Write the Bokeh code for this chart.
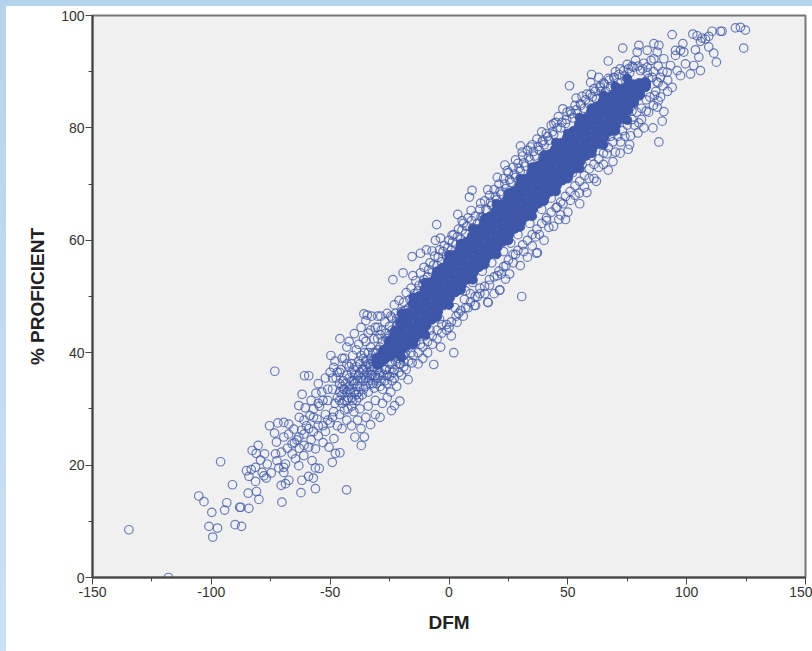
from bokeh.plotting import figure
from bokeh.models import FixedTicker, GlobalInlineStyleSheet
from bokeh.embed import file_html
from bokeh.resources import INLINE

x_ticks = [-150, -100, -50, 0, 50, 100, 150]
x_minor = [-125, -75, -25, 25, 75, 125]
x_labels = {-150: "-150", -100: "-100", -50: "-50", 0: "0", 50: "50", 100: "100", 150: "150"}
y_ticks = [0, 20, 40, 60, 80, 100]
y_minor = [10, 30, 50, 70, 90]

low_tail = [(-134.7,8.5),(-118,0),(-105.3,14.5),(-103.1,13.5),(-99.8,11.6),(-101,9.1),(-97.4,8.8),(-99.4,7.2),
(-96.1,20.6),(-91.1,16.5),(-93.5,13.3),(-94.4,12),(-90,9.4),(-87.3,9.1),(-88.1,12.5),(-87.6,12.5),(-84.2,12.3),
(-84.5,15),(-81,15.3),(-80,13.9),(-85.2,19),(-83.2,19.2),(-84.2,18),(-81.4,19.6),(-81.4,17.1),(-82.8,22.6),
(-80.3,23.5),(-81.1,22.1),(-77.6,22),(-79.3,20.9),(-78.6,18.7),(-76.9,17.7),(-77.9,18.1),(-74.8,18.6),(-76.5,20.2),
(-73.3,36.7),(-70.3,13.4),(-70.6,16.4),(-68.8,16.7),(-67.4,17.3),(-62.3,15.1),(-61.9,17.3),(-59.1,18),(-57.1,17.7),
(-56.2,15.8),(-56.2,19.5),(-54.6,19.4),(-43.1,15.6),(-49.1,20.5),(-47.8,22.1),(-45.9,22.2),(-48.4,24.7),(-39.6,25),
(-35.6,25),(-36.9,23.5),(-24.2,29.7),(-22.9,30.6),(-20.7,31.4),(-60.8,35.9),(-59,35.9),(-61.8,32.6),(-63.2,30.6),
(-49.7,39.5),(-45.9,42.5),(-39.8,43.4),(-75.5,27),(-72,27.5),(-73.4,25.7),(-72.6,24.1),(-69.5,27.6),(-67.4,27.3),
(-69.5,25),(-65.3,26.4),(-73,22),(-70.5,22.3),(-72.4,20.8),(-69.5,19.6),(-68.8,20.2),(-71.6,19.5),(-69.5,18.7),
(-66,22),(-64.6,21.1),(-63.2,19.9),(-61.1,21.7),(-57.6,20.8),(-59,23.2),(-56.2,22.9),(-50.5,23.2),(-66,23.8),
(-63.2,25),(-61,23.5),(-60,27),(-62,26.2),(-64,24.5),(-67.5,25.5),(-68,23),(-58,24.5),(-57,26),(-55,25.2),(-53,24),
(-52,26),(-55.5,28.2),(-58.5,28.8),(-61,28),(-63,28.5),(-60.5,30.2),(-57,30),(-54.5,30.5),(-52,29),(-50,27.5),
(-47,27),(-45,26.5),(-43,28),(-41,27),(-38.5,28),(-37,26.5),(-48.5,29.5),(-46,29),(-44,29.8),(-51,31.5),(-53.5,33),
(-56,32.8),(-58,31.5),(-55,34.5),(-52,35.5),(-49,33.5),(-47,32),(-45,31),(-42.5,30),(-40,29.5),(-37.5,30),(-35,28.5),
(-33,27.2),(-31,29),(-29,28.5),(-34,30.5),(-31,31.5),(-28,31),(-26,32),(-50,36.5),(-47.5,35.5),(-45,34),(-43,33),
(-41,32),(-39,31.5),(-36.5,32.5),(-34,33),(-31.5,33.7),(-48,38.5),(-45.5,37),(-43,36),(-41,35),(-38.5,34),(-36,35),
(-33.5,35.5),(-44,39),(-42,37.5),(-40,37),(-37.5,36.5),(-35,37.5),(-32.5,37),(-43,41),(-40.5,39.5),(-38,38.5),
(-35.5,40),(-33,39),(-38,41.5),(-36,42.5),(-33,41),(-31,40),(-42,42),(-37,44.5),(-34,43.5),(-31.5,42.5),
(-48.5,37.4),(-46,36.5),(-44.5,35),(-46,33),(-42,34),(-40,33),(-38,33),(-43,31.5),(-41,30.5)]

dense_low = [(-46,34.5),(-45,32.5),(-44,31.5),(-44.5,33.5),(-43.5,34.5),(-42.5,32),(-42,35.5),(-41.5,33),(-41,36.5),(-40.5,31.5),
(-40,34.5),(-39.5,36),(-39,32.5),(-39,37.5),(-38.5,35),(-38,32),(-37.5,34),(-37.5,38),(-37,35.5),(-36.5,37),(-36,33.5),(-36,39),
(-35.5,36),(-35,34),(-35,38.5),(-34.5,36.5),(-34,40),(-34,35),(-33.5,37.5),(-33,34.5),(-33,38),(-32.5,36),(-32,40),(-32,34.5),
(-31.5,37.5),(-31,36),(-31,39),(-30.5,34.5),(-30,40.5),(-30,35.5),(-29.5,38),(-29,36.5),(-29,41),(-28.5,35),(-28,38.5),(-28,42),
(-27.5,36),(-27,40.5),(-26.5,37),(-26,42.5),(-26,36),(-25.5,39.5),(-25,37),(-25,43),(-24.5,41.5),(-24,38),(-24,44),(-23.5,36.5),
(-23,43.5),(-22.5,38.5),(-22,44.8),(-21.5,39),(-21,45.5),(-20.5,38),(-19.5,46),(-19,38.5),(-18.5,40)]

upper_edge = [(-35.8,46.9),(-34.4,46.7),(-32.6,46.5),(-35,45.7),(-30,46.5),(-28.7,46.5),(-30,44.5),(-29,43.2),
(-27,45.5),(-26,47),(-25,44.7),(-24,46.2),(-23.6,53),(-23,48.5),(-22,46),(-21,49.3),(-20,47.3),(-19.3,54.2),(-19,49),
(-18,50.7),(-17,48),(-16,51.5),(-15.2,53.7),(-15.5,57.1),(-15,49.8),(-14,52.8),(-13,51),(-12,57.7),(-12,54.2),
(-11,52.3),(-10.5,55.2),(-9.5,58.3),(-9,53.5),(-8,56),(-7.1,58.1),(-7,54.3),(-6,57.2),(-5.2,62.8),(-5.7,60),(-3.6,60.4),
(-5,55.5),(-4,58.3),(-3,56.2),(-2,59),(-1,57.2),(0,60),(1.3,60.9),(1,58.2),(2,61),(3,59.3),(3.7,64.6),(4,62),
(5.5,63.5),(5,60.2),(6,63),(7,61.2),(8,64),(8.6,67.7),(9.7,68.9),(9.3,65.3),(10,62.2),(11,64.3),(12,63),(13.3,66.6),
(13,65.5),(14,64),(15,67),(16.3,69),(16,65.3),(17,68),(18,66.2),(19,69),(20.3,71.2),(20,67.2),(21,70),(22,68.2),
(23.5,73.4),(23,71),(24.5,72.4),(24,69.2),(25,72),(26,70.3),(27,73),(28,74.3),(28,71.2),(29,73.7),(30.1,76.8),(30.8,75.7),
(30,72.3),(31,75),(32,73.2),(33,76),(34.3,76.6),(34,74.3),(35,77),(36,75),(37,78),(38,76),(39.2,77.5),(39,79.3),
(40,77),(41,79),(42,77.8),(43,80.5),(44.1,80.8),(44,78.8),(45,81),(46,82),(47.9,83.4),(47,80),(49.7,82.8),(49,80.8),
(50.7,87.5),(51,83),(52,81.8),(53.5,85.3),(53,84),(55.3,84.3),(54,82.5),(56,85.6),(57,83.5),(58,86),(59,84.3),
(60,89.5),(59.6,88.1),(60.3,85.5),(61,87),(62,85.2),(63.7,87.5),(63,89),(64,86.5),(65,88),(66,86.5),(67,91.9),(67,88.8),
(68,87.3),(69.4,88.9),(70,90),(71,88),(73.1,94.2),(72,90.5),(74,89.2),(75,91.3),(76,89.8),(78.5,92),(77,91),(79.2,93.5),
(79.9,94.7),(80.6,90.2),(82,91.5),(83.4,90.8),(83.4,93.8),(85,92),(86.2,92.3),(86.2,95),(87.6,93.5),(88.3,94.7),(88,91),
(90.4,92.3),(91.8,89.9),(93.2,91.1),(93.9,96.6),(93.9,87.2),(95.3,93.8),(95.3,92.9),(96,90.2),(97.4,93.8),(97.4,89.3),
(98.4,95),(98.8,93.5),(99.5,91.4),(101.6,89.6),(102.6,96.7),(103,91.1),(103.7,93.9),(104.4,96.4),(105.1,92.6),
(105.8,95.4),(105.8,90.2),(106.5,96),(107.9,95.8),(109.3,96.3),(109.3,94.4),(110.7,97.2),(111.4,93.3),(112.5,91.7),
(114.2,97.2),(114.9,97.2),(120.5,97.8),(122.6,97.9),(124.7,97.4),(124,94.2),(92,88.5),(90,90),(88,88),(86,90),(90,87.5),
(84,88.8),(92,86.5),(89,85.5),(87,86.5)]

lower_edge = [(2,40),(-6.4,37.9),(-17.2,35.2),(-18,37),(-15.5,38.2),(-20,36),(-22,34),(-24,35),(-26,34.5),(-28,33.5),
(-24.5,33),(-21,38),(-23,37),(-13,38),(-16,40),(-11,39),(-9,40),(-12,41.5),(-10,43),(-7,41.5),(-5,42.5),(-3.5,41),
(-1,44),(-3,45),(0,44.5),(1,43),(3.4,45.4),(4,47),(2.5,48),(6,46.5),(8,48),(6.5,49.5),(10.7,48.4),(11.2,48.4),(9,50.5),(12,50),
(13,51.5),(16.5,48.9),(16.3,49),(15,50.5),(17,52),(19,50.5),(21.3,51.1),(21.4,51.2),(20.3,53.7),(23.8,53.1),(22,54),
(24,55.5),(25.5,54),(27,56),(30.6,50),(28,57.5),(30,55.5),(31.5,58),(33,57),(36.4,60.6),(36.8,57.7),(35,59),(38,61),(37.2,57.8),
(40,60),(42,62.3),(41,63.5),(44,62.5),(45.5,65.9),(46.2,63.7),(49,63.7),(47,64.5),(48,66.5),(51.1,67.1),(50,65),(53,68),(54.9,68.4),
(55,66.5),(57,69.5),(59,71),(58,68.5),(61,71),(63,73),(62,70.5),(65,73.5),(66.5,75.4),(67,72.5),(70,75.7),(69,74),(72.2,77.5),
(72,75.5),(74,78.5),(75.4,76.2),(76.4,78.6),(76,77),(78,80.5),(79.5,79.1),(79.9,80.9),(81,81.5),(82,80),(84,82.8),(85.8,80),
(83,83),(87.6,83.7),(89.7,81.2),(88.3,77.5),(90.4,82.9),(86,84),(-4,46),(-8,44),(-6,46.5),(-12,44),(-14,42),(-17,41),(-19,39.5),
(-21,41),(-23,39.5),(-25,38),(-27,37),(-29,36),(-16,43),(7,51),(10,52.5),(14,54.5),(18,56),(23,58),(26,59.5),(29,61),(34,63),(39,65.5),
(43,67.5),(52,72),(56,73.5),(60,75),(64,77),(68,78.5),(73,81.5),(77,83)]

band_fringe = [(-30,42.5),(-28.5,44),(-26.5,43.5),(-24.5,46.5),(-22.5,47),(-20.5,45.5),(-18.5,47.5),(-16.5,49.5),(-14.5,50.5),
(-12.5,52),(-10.5,53),(-8.5,54.8),(-6.5,55.6),(-4.5,57),(-2.5,58),(-0.5,58.7),(1.5,59.7),(3.5,60.6),(5.5,61.8),(7.5,62.5),
(9.5,63.5),(11.5,62),(13.5,64.2),(15.5,65.5),(17.5,66.8),(19.5,67.8),(21.5,68.7),(23.5,70),(25.5,70.8),(27.5,71.8),(29.5,72.8),
(31.5,73.8),(33.5,74.8),(35.5,75.8),(37.5,76.7),(39.5,77.8),(41.5,78.5),(43.5,79.3),(45.5,80),(47.5,81),(49.5,81.5),(51.5,82.5),
(53.5,83.2),(55.5,84),(57.5,85),(59.5,86),(61.5,86.5),(63.5,87.2),(65.5,87.8),(67.5,88.5),(69.5,89),(71.5,89.5),(73.5,90.2),
(75.5,90.5),(77.5,90.8),(79.5,91),(81.5,90.5),(83.5,89.8),(85.5,89),(87.5,88.2),(89,89),(84.5,85.5),(86.5,85.8),(88,84.8),
(83,85),(81,83.5),(79,82.8),(77,81.5),(75,80.5),(73,79.5),(71,78.5),(69,77.5),(67,76.5),(65,75.5),(63,74.5),(61,73.5),(59,72.7),
(57,71.5),(55,70.5),(53,69.7),(51,68.7),(49,67.8),(47,66.8),(45,65.8),(43,65),(41,64),(39,63),(37,62),(35,61),(33,60),(31,59.2),
(29,58.2),(27,57.5),(25,56.5),(23,55.3),(21,54.5),(19,53.5),(17,53),(15,51.8),(13,50.5),(11,50),(9,49),(7,48),(5,47.5),(3,46.5),
(1,45.5),(-1,45),(-3,43.5),(-5,44),(-7,43),(-9,42),(-11,41),(-13,40),(-15,39.5),(-17,38.5),(-19,37.5),(-21,36.5),(-23,35.5),
(-25,35.8),(-27,35),(-29,34),(-31,35.5),(-33,36),(-35,35.5),(-30,37),(-32,38.5),(-34,38),(-36,37),(-38,36),(-40,35),(-42,33.5),
(-44,33.5),(-46,31.5),(-48,31),(-49,28.5),(-51,28),(-53,27),(-55,27),(-39,40.5),(-37,39.5),(-35,42),(-33,44),(-31,44.5),(-41,38),
(-43,38),(-45,39),(-47,36.5),(-49,35.5),(-51,33.5),(-53,31.5),(-55,31),(-57,28.5),(-59,26.5),(-61,25.5),(-63,23),(-65,24)]

core_x = [-30,-27.5,-25,-22.5,-20,-17.5,-15,-12.5,-10,-7.5,-5,-2.5,0,2.5,5,7.5,10,12.5,15,17.5,20,22.5,25,27.5,
30,32.5,35,37.5,40,42.5,45,47.5,50,52.5,55,57.5,60,62.5,65,67.5,70,72.5,75,77.5,80,82.5]
core_a = [38,38.9,39.5,40,40.7,41.5,42.4,43.5,44.8,46,47.3,48.6,49.8,50.9,52.1,53.2,54.3,55.4,56.6,57.7,58.8,59.9,
61.1,62.2,63.3,64.4,65.6,66.7,67.8,68.8,69.8,70.8,71.8,72.9,74.1,75.2,76.3,77.3,78.3,79.5,80.6,81.9,83.2,84.6,85.9,87.4]
core_b = [38.2,39.3,40.4,41.2,42.2,43.1,44.4,45.6,46.9,48.1,49.4,50.7,51.9,53,54.2,55.3,56.4,57.5,58.7,59.8,60.9,62,
63.2,64.3,65.4,66.5,67.7,68.8,69.9,70.9,71.9,72.9,73.9,75,76.2,77.3,78.4,79.4,80.4,81.5,82.6,83.6,84.6,85.6,86.5,87.6]
core_c = [38.8,39.9,41.2,42.6,43.8,45.2,46.6,47.8,49.1,50.3,51.6,52.9,54.1,55.2,56.4,57.5,58.6,59.7,60.9,62,63.1,64.2,
65.4,66.5,67.6,68.7,69.9,71,72.1,73.1,74.1,75.1,76.1,77.2,78.4,79.5,80.6,81.6,82.6,83.5,84.4,85.2,86,86.5,87.1,87.8]
core_d = [39,40.3,42,43.8,45.3,46.9,48.6,49.9,51.2,52.4,53.7,55,56.2,57.3,58.5,59.6,60.7,61.8,63,64.1,65.2,66.3,
67.5,68.6,69.7,70.8,72,73.1,74.2,75.2,76.2,77.2,78.2,79.3,80.5,81.6,82.7,83.7,84.7,85.4,86.1,86.8,87.3,87.6,87.8,88]

rim_x = [-20,-15,-10,-5,0,5,10,15,20,25,30,35,40,45,50,55,60,65,70,75]
rim_low = [39.2,41.5,43.2,46.4,48.5,51.2,53,55.7,57.5,60,62.4,64.3,67,68.7,71,72.8,75.5,77,79.5,81.4]
rim_high = [47,49.8,52.5,54.5,57.4,59.4,62,63.9,66.5,68.4,71,73,75.2,77.4,79,81.8,83.5,85.8,87.4,88.8]

page_css = """
html { background:
  linear-gradient(#b6d3ec, #b6d3ec) top left / 100% 6px no-repeat,
  linear-gradient(#b6d3ec, #cbe1f5) top left / 6px 100% no-repeat,
  #ffffff; overflow: hidden; }
body { margin: 6px 0 0 6px; background: transparent; }
"""

blue = "#3f57a8"
p = figure(width=806, height=645, x_range=(-150, 150), y_range=(0, 100), toolbar_location=None,
           output_backend="svg", min_border_left=86, min_border_right=7, min_border_top=9, min_border_bottom=74,
           background_fill_color="#f0f0f0", border_fill_color="#ffffff", outline_line_color="#777777",
           outline_line_width=2)
p.stylesheets = [GlobalInlineStyleSheet(css=page_css)]
p.grid.visible = False

for axis, major, minor, label in [(p.xaxis[0], x_ticks, x_minor, "DFM"), (p.yaxis[0], y_ticks, y_minor, "% PROFICIENT")]:
    axis.ticker = FixedTicker(ticks=major, minor_ticks=minor)
    axis.axis_label = label
    axis.axis_label_text_font = "Liberation Sans"
    axis.axis_label_text_font_style = "bold"
    axis.axis_label_text_font_size = "19px"
    axis.axis_label_text_color = "#222222"
    axis.major_label_text_font = "Liberation Sans"
    axis.major_label_text_font_size = "14px"
    axis.major_label_text_color = "#333333"
    axis.axis_line_color = "#444444"
    axis.axis_line_width = 2
    axis.major_tick_line_color = "#444444"
    axis.minor_tick_line_color = "#444444"
    axis.major_tick_in = 0
    axis.minor_tick_in = 0
    axis.major_tick_out = 7
    axis.minor_tick_out = 4
p.xaxis[0].major_label_overrides = x_labels
p.xaxis.axis_label_standoff = 12
p.xaxis.major_label_standoff = 2
p.yaxis.axis_label_standoff = 10
p.yaxis.major_label_standoff = 1

for ys in (core_a, core_b, core_c, core_d):
    p.scatter(core_x, ys, size=11, fill_color=blue, line_color=blue, line_alpha=0.9, fill_alpha=1)
for ys in (rim_low, rim_high):
    p.scatter(rim_x, ys, size=9, fill_color=blue, line_color=blue, line_alpha=0.9, fill_alpha=1)
for pts in (low_tail, dense_low, upper_edge, lower_edge, band_fringe):
    p.scatter([a for a, _ in pts], [b for _, b in pts], size=8.5, fill_alpha=0, line_color=blue, line_alpha=0.75, line_width=1.2)

open("out.html", "w").write(file_html(p, INLINE))
